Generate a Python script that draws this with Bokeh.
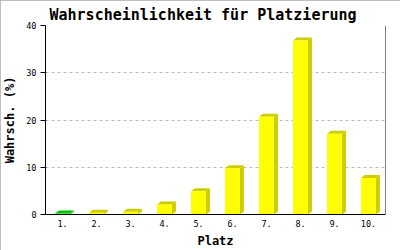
from bokeh.plotting import figure
from bokeh.models import Range1d, FixedTicker, Span
from bokeh.embed import file_html
from bokeh.resources import INLINE

places = ["1.", "2.", "3.", "4.", "5.", "6.", "7.", "8.", "9.", "10."]
probs = [0.2, 0.35, 0.6, 2.1, 4.9, 9.8, 20.7, 36.8, 17.1, 7.7]
front_colors = ["#22dd22"] + ["#ffff00"] * 9
shade_colors = ["#00c400"] + ["#cccc00"] * 9

W = 0.44     # bar front width (category units)
DX = 0.117   # depth offset x (category units)
DY = 0.635   # depth offset y (value units)

p = figure(width=400, height=250, output_backend="svg", toolbar_location=None,
           x_range=Range1d(0, 10), y_range=Range1d(0, 40),
           min_border_left=43, min_border_right=15, min_border_top=25, min_border_bottom=36,
           background_fill_color="white", border_fill_color="white")
p.styles = {"outline": "2px solid #a8a8a8", "outline-offset": "-2px"}
p.outline_line_color = None

xs = [i + 0.5 for i in range(len(places))]

side_x, side_y, top_x, top_y = [], [], [], []
for x, v in zip(xs, probs):
    r = x + W / 2
    l = x - W / 2
    side_x.append([r, r + DX, r + DX, r])
    side_y.append([0, DY, v + DY, v])
    top_x.append([l, l + DX, r + DX, r])
    top_y.append([v, v + DY, v + DY, v])

p.patches(side_x, side_y, fill_color=shade_colors, line_color=None)
p.patches(top_x, top_y, fill_color=shade_colors, line_color=None)
p.vbar(x=xs, top=probs, width=W, bottom=0, fill_color=front_colors, line_color=None)

p.add_layout(Span(location=10, dimension="height", line_color="black", line_width=1))

p.title.text = "Wahrscheinlichkeit für Platzierung"
p.title.text_font = "DejaVu Sans Mono"
p.title.text_font_size = "15px"
p.title.text_font_style = "bold"
p.title.text_color = "black"
p.title.align = "left"
p.title.offset = 4
p.title.standoff = 4

p.xaxis.ticker = FixedTicker(ticks=xs)
p.xaxis.major_label_overrides = {x: lab for x, lab in zip(xs, places)}
p.xaxis.major_tick_out = 0
p.xaxis.major_tick_in = 0
p.xaxis.minor_tick_out = 0
p.xaxis.minor_tick_in = 0
p.xaxis.major_label_standoff = 5
p.xaxis.axis_label = "Platz"
p.xaxis.axis_label_standoff = 4

p.yaxis.ticker = FixedTicker(ticks=[0, 10, 20, 30, 40])
p.yaxis.major_tick_out = 5
p.yaxis.major_tick_in = 0
p.yaxis.minor_tick_out = 0
p.yaxis.minor_tick_in = 0
p.yaxis.major_label_standoff = 4
p.yaxis.axis_label = "Wahrsch. (%)"
p.yaxis.axis_label_standoff = 6

for ax in (p.xaxis, p.yaxis):
    ax.axis_line_color = "black"
    ax.axis_line_width = 1
    ax.major_tick_line_color = "black"
    ax.major_label_text_font = "DejaVu Sans Mono"
    ax.major_label_text_font_size = "8.5px"
    ax.major_label_text_color = "black"
    ax.axis_label_text_font = "DejaVu Sans Mono"
    ax.axis_label_text_font_size = "12px"
    ax.axis_label_text_font_style = "bold"
    ax.axis_label_text_color = "black"

p.xgrid.grid_line_color = None
p.ygrid.grid_line_color = "#bbbbbb"
p.ygrid.grid_line_dash = "3 3"

open("out.html", "w").write(file_html(p, INLINE))
